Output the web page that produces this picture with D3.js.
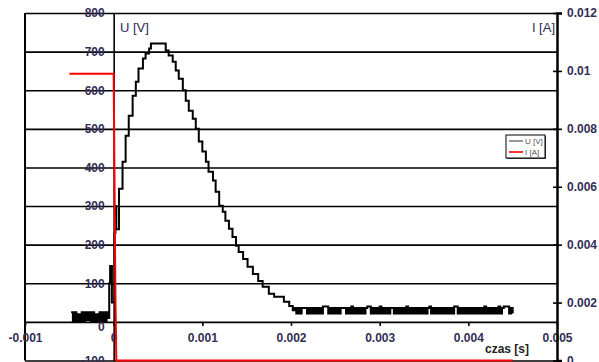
<!DOCTYPE html>
<html><head><meta charset="utf-8">
<script src="https://cdn.jsdelivr.net/npm/d3@7/dist/d3.min.js"></script>
<style>
html,body{margin:0;padding:0;background:#fff;}
svg{display:block;}
text{font-family:"Liberation Sans",Arial,sans-serif;}
</style></head>
<body><svg id="c" width="599" height="362"></svg>
<script>
// ---- data ----
const uTime = [
 -0.00048,-0.00046,-0.00044,-0.00042,-0.00040,-0.00038,-0.00036,-0.00034,-0.00032,-0.00030,-0.00028,
 -0.00026,-0.00024,-0.00022,-0.00020,-0.00018,-0.00016,-0.00014,-0.00012,-0.00010,-0.00008,
 -0.00006,-0.00005,-0.00004,-0.00002,0.00001,0.00002,0.00003,0.00006,0.00010,0.000135,0.00017,
 0.000214,0.00025,0.00028,0.00033,0.00036,0.00040,0.00042,0.000587,0.00062,0.000666,0.00070,
 0.000734,0.00078,0.000813,0.000847,0.000892,0.000926,0.00096,0.00100,0.00104,0.00107,0.00112,
 0.00115,0.00119,0.00123,0.00126,0.00130,0.00134,0.00138,0.00141,0.00146,0.00151,0.00157,0.00163,
 0.00168,0.00175,0.00181,0.00192,0.00198,0.00202,
 0.00204,0.00206,0.00208,0.0021,0.00212,0.00214,0.00216,0.00218,0.0022,0.00222,0.00224,0.00226,
 0.00228,0.0023,0.00232,0.00234,0.00236,0.00238,0.0024,0.00242,0.00244,0.00246,0.00248,0.0025,
 0.00252,0.00254,0.00256,0.00258,0.0026,0.00262,0.00264,0.00266,0.00268,0.0027,0.00272,0.00274,
 0.00276,0.00278,0.0028,0.00282,0.00284,0.00286,0.00288,0.0029,0.00292,0.00294,0.00296,0.00298,
 0.003,0.00302,0.00304,0.00306,0.00308,0.0031,0.00312,0.00314,0.00316,0.00318,0.0032,0.00322,
 0.00324,0.00326,0.00328,0.0033,0.00332,0.00334,0.00336,0.00338,0.0034,0.00342,0.00344,0.00346,
 0.00348,0.0035,0.00352,0.00354,0.00356,0.00358,0.0036,0.00362,0.00364,0.00366,0.00368,0.0037,
 0.00372,0.00374,0.00376,0.00378,0.0038,0.00382,0.00384,0.00386,0.00388,0.0039,0.00392,0.00394,
 0.00396,0.00398,0.004,0.00402,0.00404,0.00406,0.00408,0.0041,0.00412,0.00414,0.00416,0.00418,
 0.0042,0.00422,0.00424,0.00426,0.00428,0.0043,0.00432,0.00434,0.00436,0.00438,0.0044,0.00442,
 0.00444,0.00446,0.00448,0.0045
];
const uVolt = [
 25,2,25,2,20,2,25,2,25,5,25,
 2,25,2,20,2,25,2,25,2,25,
 10,100,145,50,230,300,240,345,415,482,534,
 586,622,656,682,695,708,721,703,690,674,651,
 630,600,573,547,526,500,467,441,415,389,366,
 337,301,285,262,241,220,197,181,163,143,124,106,
 91,73,65,52,41,30,
 36,22,36,22,36,36,36,22,36,22,36,22,
 36,22,36,22,40,40,40,22,36,22,36,22,
 36,22,36,36,36,22,36,22,40,22,36,22,
 36,22,36,22,36,40,40,22,36,22,36,22,
 40,22,36,22,36,22,36,36,22,36,22,36,
 22,36,22,40,22,36,22,36,22,36,22,36,
 22,36,22,36,40,22,36,22,36,22,36,22,
 36,22,36,22,36,22,40,40,22,36,22,36,
 22,36,22,36,22,36,22,36,22,36,22,40,
 22,36,22,36,22,36,22,40,22,36,40,40,
 40,22,36,22
];
const iTime = [-0.0005, 0, 0.00002, 0.00003, 0.0045];
const iAmp  = [0.0099, 0.0099, 0.0022, 0, 0];

const xTicks = [-0.001, 0, 0.001, 0.002, 0.003, 0.004, 0.005];
const uTicks = [-100, 0, 100, 200, 300, 400, 500, 600, 700, 800];
const iTicks = [0, 0.002, 0.004, 0.006, 0.008, 0.01, 0.012];
const seriesNames = ["U [V]", "I [A]"];
const seriesColors = ["#000000", "#ff0000"];
const legendColors = ["#808080", "#ff0000"];

// ---- scales ----
const L = 25, R = 557, T = 13, B = 360.5;
const x = d3.scaleLinear().domain([-0.001, 0.005]).range([L, R]);
const yU = d3.scaleLinear().domain([-100, 800]).range([B, T]);
const yI = d3.scaleLinear().domain([0, 0.012]).range([B, T]);

const svg = d3.select("#c");
const labelColor = "#332e55";

// grid lines
const grid = svg.append("g").attr("transform", `translate(${L},0)`)
  .call(d3.axisRight(yU).tickValues(uTicks).tickSize(R - L).tickFormat(""));
grid.select(".domain").remove();
grid.selectAll("line").attr("stroke", "#000").attr("stroke-width", 1.6);

// left border
svg.append("line").attr("x1", L).attr("x2", L).attr("y1", T).attr("y2", B)
  .attr("stroke", "#000").attr("stroke-width", 2);

// left axis at x=0
const ax = svg.append("g").attr("transform", `translate(${x(0)},0)`)
  .call(d3.axisLeft(yU).tickValues(uTicks).tickSize(0).tickPadding(9).tickFormat(d => String(d)));
ax.select(".domain").attr("stroke", "#000").attr("stroke-width", 1.6);
ax.selectAll("text").attr("fill", labelColor).style("font-size", "12px").style("font-weight", "bold");
ax.selectAll(".tick").filter(d => d === 0).select("text").attr("dy", "0.7em");

// x axis at U=0
const bx = svg.append("g").attr("transform", `translate(0,${yU(0)})`)
  .call(d3.axisBottom(x).tickValues(xTicks).tickSize(4).tickPadding(8).tickFormat(d => String(d)));
bx.select(".domain").remove();
bx.selectAll("line").attr("stroke", "#000").attr("stroke-width", 1.6);
bx.selectAll("text").attr("fill", labelColor).style("font-size", "12px").style("font-weight", "bold");

// right axis
const rx = svg.append("g").attr("transform", `translate(${R},0)`)
  .call(d3.axisRight(yI).tickValues(iTicks).tickSize(5).tickPadding(5).tickFormat(d => String(d)));
rx.select(".domain").attr("stroke", "#000").attr("stroke-width", 2.5);
rx.selectAll("line").attr("x1", -4).attr("stroke", "#000").attr("stroke-width", 1.6);
rx.selectAll("text").attr("fill", labelColor).style("font-size", "12px").style("font-weight", "bold");

// series
const uData = uTime.map((t, i) => [t, uVolt[i]]);
const iData = iTime.map((t, i) => [t, iAmp[i]]);

svg.append("path").datum(uData)
  .attr("fill", "none").attr("stroke", seriesColors[0]).attr("stroke-width", 2)
  .attr("d", d3.line().x(d => x(d[0])).y(d => yU(d[1])).curve(d3.curveStepAfter));

svg.append("path").datum(iData)
  .attr("fill", "none").attr("stroke", seriesColors[1]).attr("stroke-width", 2)
  .attr("d", d3.line().x(d => x(d[0])).y(d => yI(d[1])));

// axis titles
svg.append("text").attr("x", 120).attr("y", 32).text("U [V]")
  .attr("fill", "#2a2a50").style("font-size", "13px");
svg.append("text").attr("x", 555).attr("y", 32).attr("text-anchor", "end").text("I [A]")
  .attr("fill", "#2a2a50").style("font-size", "13px");
svg.append("text").attr("x", 485).attr("y", 353).text("czas [s]")
  .attr("fill", "#222").style("font-size", "12px").style("font-weight", "bold");

// legend
const lg = svg.append("g").attr("transform", "translate(506,135)");
lg.append("rect").attr("x", 1).attr("y", 1).attr("width", 39).attr("height", 23).attr("fill", "#444");
lg.append("rect").attr("width", 39).attr("height", 23).attr("fill", "#fff")
  .attr("stroke", "#000").attr("stroke-width", 1);
seriesNames.forEach((n, i) => {
  const yy = 6 + i * 11;
  lg.append("line").attr("x1", 3).attr("x2", 17).attr("y1", yy).attr("y2", yy)
    .attr("stroke", legendColors[i]).attr("stroke-width", 1.6);
  lg.append("text").attr("x", 19).attr("y", yy + 3).text(n)
    .attr("fill", "#555").style("font-size", "8px");
});
</script></body></html>
